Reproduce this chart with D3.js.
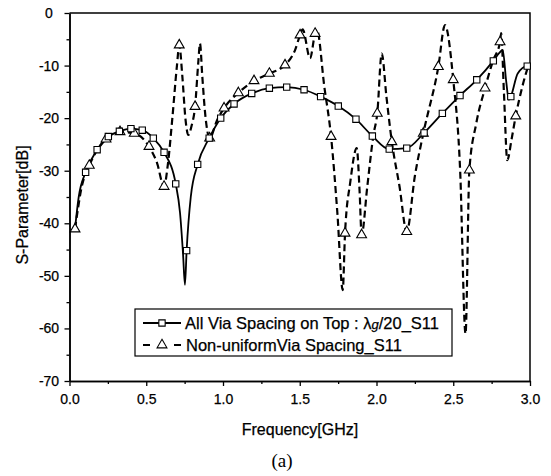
<!DOCTYPE html>
<html>
<head>
<meta charset="utf-8">
<script src="https://cdn.jsdelivr.net/npm/d3@7"></script>
<style>
  body { margin: 0; background: #fff; }
  text { font-family: Arial, "Liberation Sans", sans-serif; fill: #000; stroke: #000; stroke-width: 0.25px; }
</style>
</head>
<body>
<div id="chart"></div>
<script>
// S11 curves

// series 1: all via spacing on top (solid, squares)
const uniformFreq = [0.036, 0.06, 0.105, 0.18, 0.253, 0.325, 0.4, 0.474, 0.546, 0.616, 0.692, 0.72, 0.74, 0.752, 0.763, 0.79, 0.835, 0.91, 0.985, 1.072, 1.187, 1.302, 1.415, 1.528, 1.636, 1.751, 1.866, 1.973, 2.083, 2.197, 2.31, 2.429, 2.544, 2.653, 2.761, 2.8, 2.822, 2.845, 2.862, 2.875, 2.92, 2.982, 3.0];
const uniformS11  = [-41, -35, -30.3, -26, -23.5, -22.5, -22, -22.3, -23.8, -26.5, -32.5, -38, -46, -51.7, -45.2, -35, -28.8, -23.8, -20, -17.3, -15.3, -14.3, -14.1, -14.6, -15.9, -17.7, -20.2, -23.4, -25.9, -25.7, -22.8, -19.1, -15.7, -12.7, -9.1, -7.6, -7.0, -13, -16.5, -15.9, -11.5, -10.1, -10.3];
const uniformMark = [0, 0, 1, 1, 1, 1, 1, 1, 1, 1, 1, 0, 0, 0, 1, 0, 1, 1, 1, 1, 1, 1, 1, 1, 1, 1, 1, 1, 1, 1, 1, 1, 1, 1, 1, 0, 0, 0, 0, 1, 0, 1, 0];

// series 2: non-uniform via spacing (dashed, triangles)
const nonUniformFreq = [0.036, 0.08, 0.129, 0.238, 0.329, 0.422, 0.518, 0.57, 0.616, 0.64, 0.67, 0.70, 0.715, 0.735, 0.755, 0.774, 0.795, 0.818, 0.84, 0.85, 0.865, 0.885, 0.913, 0.96, 1.007, 1.1, 1.202, 1.302, 1.404, 1.47, 1.502, 1.519, 1.567, 1.6, 1.612, 1.66, 1.704, 1.745, 1.78, 1.795, 1.83, 1.871, 1.89, 1.903, 1.94, 1.98, 2.005, 2.034, 2.065, 2.1, 2.15, 2.197, 2.25, 2.305, 2.403, 2.446, 2.5, 2.545, 2.58, 2.605, 2.65, 2.707, 2.76, 2.805, 2.812, 2.83, 2.852, 2.88, 2.907, 2.95, 2.99];
const nonUniformS11  = [-41.1, -33, -29.0, -24.0, -22.6, -22.9, -25.4, -28.5, -33.0, -29, -20, -10, -6.1, -12, -20, -23.2, -21.5, -17.8, -9, -5.8, -12, -19.5, -23.8, -20.5, -18.1, -15.2, -12.9, -11.5, -9.9, -7, -4.2, -3.1, -8.6, -3.9, -3.2, -14, -23.5, -38, -52.7, -41.9, -32, -25.7, -34, -42.2, -33, -23.2, -19.1, -7.7, -16, -24.5, -33, -41.6, -31, -22.9, -10.2, -2.3, -12.7, -30, -61, -29.9, -21, -14.3, -9, -5.5, -3.8, -15, -28, -24, -19.6, -14, -9.9];
const nonUniformMark = [1, 0, 1, 1, 1, 1, 1, 0, 1, 0, 0, 0, 1, 0, 0, 0, 0, 1, 0, 0, 0, 0, 1, 0, 1, 1, 1, 1, 1, 0, 1, 0, 0, 1, 0, 0, 1, 0, 0, 1, 0, 0, 0, 1, 0, 0, 1, 0, 0, 1, 0, 1, 0, 1, 1, 0, 1, 0, 0, 1, 0, 1, 0, 1, 0, 0, 0, 0, 1, 0, 0];

const xTicks = [0, 0.5, 1.0, 1.5, 2.0, 2.5, 3.0];
const xMinorTicks = [0.25, 0.75, 1.25, 1.75, 2.25, 2.75];
const yTicks = [-70, -60, -50, -40, -30, -20, -10, 0];
const yMinorTicks = [-65, -55, -45, -35, -25, -15, -5];

const legendLabels = ["All Via Spacing on Top : ", "Non-uniformVia Spacing_S11"];

const canvWidth = 551, canvHeight = 476;
const svg = d3.select("#chart").append("svg")
    .attr("width", canvWidth)
    .attr("height", canvHeight);

const plotLeft = 69.5, plotRight = 530, plotTop = 13, plotBottom = 381;

const xScale = d3.scaleLinear().domain([0, 3]).range([plotLeft, plotRight]);
const yScale = d3.scaleLinear().domain([-70, 0]).range([plotBottom, plotTop]);

// frame (top + right)
svg.append("path")
    .attr("d", `M${plotLeft},${plotTop}H${plotRight}V${plotBottom}`)
    .attr("fill", "none")
    .attr("stroke", "#000")
    .attr("stroke-width", 1.5);

// x axis
const xAxis = svg.append("g")
    .attr("transform", `translate(0,${plotBottom})`)
    .call(d3.axisBottom(xScale).tickValues(xTicks).tickSize(5).tickSizeOuter(0).tickFormat(d3.format(".1f")));
svg.append("g")
    .attr("transform", `translate(0,${plotBottom})`)
    .call(d3.axisBottom(xScale).tickValues(xMinorTicks).tickSize(3).tickSizeOuter(0).tickFormat(""));

// y axis
const yAxis = svg.append("g")
    .attr("transform", `translate(${plotLeft},0)`)
    .call(d3.axisLeft(yScale).tickValues(yTicks).tickSize(5).tickSizeOuter(0).tickFormat(d => String(d)));
svg.append("g")
    .attr("transform", `translate(${plotLeft},0)`)
    .call(d3.axisLeft(yScale).tickValues(yMinorTicks).tickSize(3).tickSizeOuter(0).tickFormat(""));

svg.selectAll(".domain").attr("stroke-width", 1.5);
svg.selectAll(".tick line").attr("stroke-width", 1.3);
svg.selectAll(".tick text")
    .style("font-family", "Arial, 'Liberation Sans', sans-serif")
    .style("font-size", "14px");
xAxis.selectAll(".tick text").attr("y", 13);
yAxis.selectAll(".tick text").attr("x", -20.5).attr("text-anchor", "middle");

// axis titles
svg.append("text")
    .attr("x", 300)
    .attr("y", 435)
    .style("text-anchor", "middle")
    .style("font-size", "16px")
    .text("Frequency[GHz]");

svg.append("text")
    .attr("transform", "rotate(-90)")
    .attr("x", -205)
    .attr("y", 28)
    .style("text-anchor", "middle")
    .style("font-size", "16px")
    .text("S-Parameter[dB]");

svg.append("text")
    .attr("x", 282)
    .attr("y", 467)
    .style("text-anchor", "middle")
    .style("font-family", "'Liberation Serif', 'DejaVu Serif', serif")
    .style("font-size", "19px")
    .style("stroke-width", "0")
    .text("(a)");

// curves
const uniform = uniformFreq.map((f, i) => ({f: f, s: uniformS11[i], m: uniformMark[i]}));
const nonUniform = nonUniformFreq.map((f, i) => ({f: f, s: nonUniformS11[i], m: nonUniformMark[i]}));

const line = d3.line()
    .x(d => xScale(d.f))
    .y(d => yScale(d.s))
    .curve(d3.curveMonotoneX);

svg.append("path")
    .datum(nonUniform)
    .attr("d", line)
    .attr("fill", "none")
    .attr("stroke", "#000")
    .attr("stroke-width", 2.2)
    .attr("stroke-dasharray", "7,4");

svg.append("path")
    .datum(uniform)
    .attr("d", line)
    .attr("fill", "none")
    .attr("stroke", "#000")
    .attr("stroke-width", 1.8);

const tri = d3.symbol().type(d3.symbolTriangle).size(42);
const sq = d3.symbol().type(d3.symbolSquare).size(40);

svg.selectAll(".tri")
    .data(nonUniform.filter(d => d.m))
    .enter().append("path")
    .attr("class", "tri")
    .attr("d", tri)
    .attr("transform", d => `translate(${xScale(d.f)},${yScale(d.s)})`)
    .attr("fill", "#fff")
    .attr("stroke", "#000")
    .attr("stroke-width", 1.1);

svg.selectAll(".sq")
    .data(uniform.filter(d => d.m))
    .enter().append("path")
    .attr("class", "sq")
    .attr("d", sq)
    .attr("transform", d => `translate(${xScale(d.f)},${yScale(d.s)})`)
    .attr("fill", "#fff")
    .attr("stroke", "#000")
    .attr("stroke-width", 1.1);

// legend
const lg = svg.append("g");
lg.append("rect")
    .attr("x", 135).attr("y", 309)
    .attr("width", 317).attr("height", 47)
    .attr("fill", "#fff")
    .attr("stroke", "#000")
    .attr("stroke-width", 1.2);

lg.append("line")
    .attr("x1", 143).attr("x2", 181).attr("y1", 323).attr("y2", 323)
    .attr("stroke", "#000").attr("stroke-width", 1.8);
lg.append("path")
    .attr("d", sq)
    .attr("transform", "translate(162,323)")
    .attr("fill", "#fff").attr("stroke", "#000").attr("stroke-width", 1.1);

lg.append("line")
    .attr("x1", 143).attr("x2", 181).attr("y1", 345).attr("y2", 345)
    .attr("stroke", "#000").attr("stroke-width", 2.2)
    .attr("stroke-dasharray", "7,24");
lg.append("path")
    .attr("d", tri)
    .attr("transform", "translate(162,345)")
    .attr("fill", "#fff").attr("stroke", "#000").attr("stroke-width", 1.1);

const t1 = lg.append("text")
    .attr("x", 185).attr("y", 329)
    .style("font-size", "16.5px");
t1.append("tspan").text(legendLabels[0] + "λ");
t1.append("tspan").style("font-style", "italic").style("font-size", "13px").text("g");
t1.append("tspan").text("/20_S11");

lg.append("text")
    .attr("x", 186).attr("y", 351)
    .style("font-size", "16.5px")
    .text(legendLabels[1]);
</script>
</body>
</html>
